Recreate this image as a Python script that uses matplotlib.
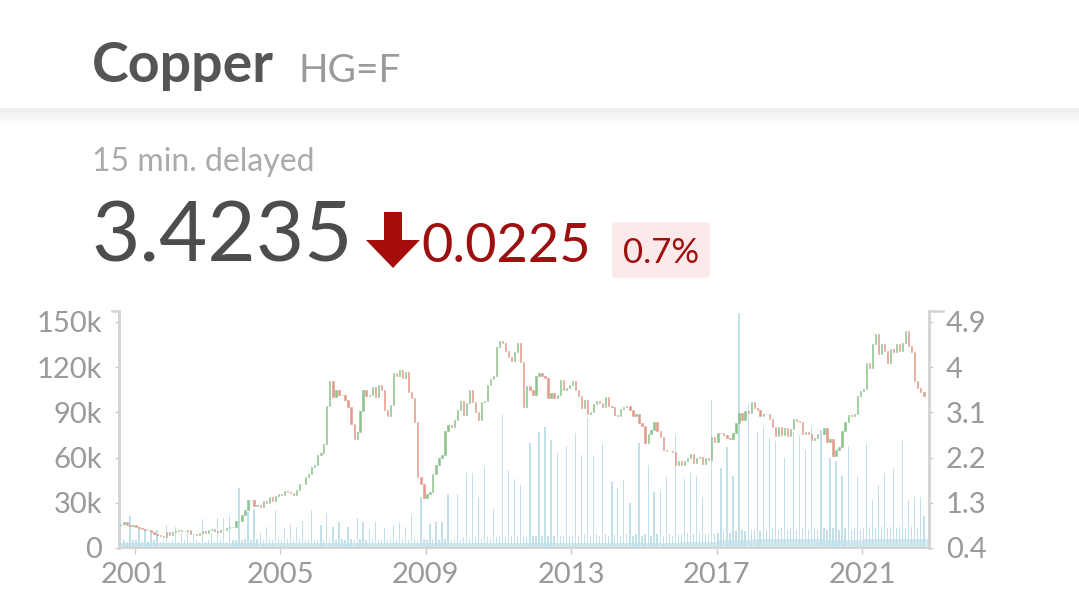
import matplotlib
matplotlib.use('Agg')
import matplotlib.pyplot as plt
import matplotlib.dates as mdates
import pandas as pd
import numpy as np
from matplotlib.patches import Polygon, FancyBboxPatch, Rectangle

plt.rcParams['font.family'] = ['Lato', 'DejaVu Sans']

# ---------------- data ----------------
title = "Copper"
symbol = "HG=F"
delay_note = "15 min. delayed"
last_price = "3.4235"
change = "0.0225"
change_pct = "0.7%"

start_month = "2000-08-01"
first_open = 0.85
# monthly closing prices, USD/lb (Aug 2000 .. Sep 2022)
closes = [
    0.88, 0.92, 0.86, 0.84, 0.85,                                          # 2000
    0.81, 0.80, 0.77, 0.76, 0.76, 0.71, 0.68, 0.66, 0.63, 0.62, 0.71, 0.66,  # 2001
    0.71, 0.73, 0.76, 0.73, 0.73, 0.76, 0.68, 0.68, 0.66, 0.70, 0.74, 0.70,  # 2002
    0.76, 0.77, 0.73, 0.72, 0.76, 0.75, 0.79, 0.81, 0.81, 0.93, 0.93, 1.05,  # 2003
    1.15, 1.35, 1.36, 1.23, 1.26, 1.21, 1.33, 1.30, 1.41, 1.34, 1.44, 1.48,  # 2004
    1.46, 1.53, 1.51, 1.50, 1.45, 1.56, 1.67, 1.67, 1.81, 1.88, 2.01, 2.05,  # 2005
    2.25, 2.30, 2.48, 3.22, 3.72, 3.40, 3.55, 3.45, 3.45, 3.35, 3.20, 2.86,  # 2006
    2.58, 2.70, 3.12, 3.55, 3.42, 3.45, 3.60, 3.40, 3.65, 3.55, 3.15, 3.03,  # 2007
    3.25, 3.88, 3.82, 3.94, 3.78, 3.90, 3.50, 3.38, 2.90, 1.82, 1.67, 1.40,  # 2008
    1.47, 1.52, 1.87, 2.05, 2.20, 2.25, 2.72, 2.85, 2.80, 2.95, 3.15, 3.33,  # 2009
    3.05, 3.28, 3.55, 3.30, 3.10, 2.95, 3.30, 3.33, 3.64, 3.76, 3.82, 4.40,  # 2010
    4.52, 4.48, 4.32, 4.20, 4.12, 4.30, 4.48, 4.10, 3.20, 3.62, 3.55, 3.44,  # 2011
    3.83, 3.88, 3.83, 3.78, 3.38, 3.48, 3.38, 3.45, 3.75, 3.55, 3.58, 3.65,  # 2012
    3.72, 3.55, 3.42, 3.18, 3.34, 3.06, 3.11, 3.26, 3.32, 3.28, 3.20, 3.40,  # 2013
    3.23, 3.20, 3.04, 3.03, 3.16, 3.20, 3.22, 3.14, 3.02, 3.06, 2.89, 2.83,  # 2014
    2.49, 2.67, 2.74, 2.90, 2.72, 2.61, 2.36, 2.34, 2.33, 2.32, 2.06, 2.13,  # 2015
    2.06, 2.14, 2.20, 2.27, 2.10, 2.20, 2.22, 2.07, 2.19, 2.16, 2.61, 2.51,  # 2016
    2.68, 2.69, 2.65, 2.60, 2.57, 2.69, 2.88, 3.08, 2.94, 3.12, 3.08, 3.30,  # 2017
    3.19, 3.14, 3.03, 3.06, 3.07, 2.96, 2.80, 2.64, 2.81, 2.65, 2.78, 2.63,  # 2018
    2.77, 2.96, 2.93, 2.90, 2.67, 2.71, 2.66, 2.56, 2.59, 2.66, 2.66, 2.79,  # 2019
    2.51, 2.57, 2.23, 2.35, 2.42, 2.72, 2.91, 3.05, 3.03, 3.07, 3.42, 3.52,  # 2020
    3.56, 4.09, 3.99, 4.47, 4.67, 4.27, 4.47, 4.33, 4.09, 4.37, 4.30, 4.46,  # 2021
    4.32, 4.49, 4.73, 4.43, 4.30, 3.72, 3.58, 3.51, 3.42,                    # 2022
]

# monthly peak volume, thousands of contracts
volume_k = [
    16, 5, 4, 21, 5,                                  # 2000
    5, 14, 4, 12, 4, 10, 5, 12, 4, 5, 15, 4,          # 2001
    5, 14, 4, 10, 5, 11, 4, 9, 5, 4, 19, 4,           # 2002
    5, 10, 4, 20, 5, 20, 4, 22, 5, 5, 40, 5,          # 2003
    6, 24, 5, 26, 6, 10, 5, 14, 6, 5, 25, 6,          # 2004
    5, 13, 6, 16, 5, 14, 6, 18, 5, 6, 25, 5,          # 2005
    6, 15, 5, 23, 6, 14, 5, 17, 6, 5, 14, 6,          # 2006
    5, 20, 6, 17, 5, 12, 6, 17, 5, 6, 13, 5,          # 2007
    6, 15, 5, 17, 6, 14, 5, 22, 6, 5, 34, 6,          # 2008
    5, 16, 6, 17, 5, 17, 6, 36, 5, 6, 36, 5,          # 2009
    7, 50, 6, 50, 7, 34, 6, 54, 7, 6, 26, 7,          # 2010
    8, 88, 7, 52, 8, 46, 7, 42, 8, 7, 70, 8,          # 2011
    8, 77, 8, 80, 8, 72, 8, 63, 8, 8, 68, 8,          # 2012
    8, 76, 8, 62, 9, 86, 8, 61, 9, 8, 70, 9,          # 2013
    8, 44, 9, 40, 8, 45, 9, 30, 8, 9, 70, 8,          # 2014
    9, 55, 8, 37, 9, 38, 8, 47, 9, 8, 75, 9,          # 2015
    9, 46, 10, 50, 9, 48, 10, 33, 9, 10, 98, 9,       # 2016
    10, 53, 11, 67, 10, 48, 11, 156, 12, 11, 96, 12,  # 2017
    12, 77, 11, 80, 12, 73, 13, 71, 12, 13, 60, 12,   # 2018
    13, 77, 12, 75, 13, 65, 12, 80, 13, 12, 78, 13,   # 2019
    12, 60, 13, 58, 12, 48, 13, 68, 12, 13, 48, 12,   # 2020
    13, 70, 14, 32, 13, 42, 14, 50, 13, 14, 53, 13,   # 2021
    14, 72, 13, 32, 14, 34, 13, 34, 21,               # 2022
]

# typical (baseline) daily volume per year, thousands
base_years = list(range(2000, 2023))
base_volume_k = [3, 3, 3, 3, 3.5, 3.5, 3, 3, 3, 3, 3, 3, 3, 3, 3, 3.5, 4, 5, 6, 6, 5, 6, 6]

vol_ticks = [0, 30000, 60000, 90000, 120000, 150000]
vol_labels = ["0", "30k", "60k", "90k", "120k", "150k"]
price_ticks = [0.4, 1.3, 2.2, 3.1, 4.0, 4.9]
price_labels = ["0.4", "1.3", "2.2", "3.1", "4", "4.9"]
year_ticks = [2001, 2005, 2009, 2013, 2017, 2021]

# ---------------- figure ----------------
W, H = 1079, 607
fig = plt.figure(figsize=(W / 100, H / 100), dpi=100, facecolor='white')

def fx(px):
    return px / W

def fy(py):
    return 1 - py / H

# header shadow band
for (y0, y1, c) in [(108, 112, '#efefef'), (112, 116, '#f3f3f3'),
                    (116, 120, '#f7f7f7'), (120, 125, '#fbfbfb')]:
    fig.add_artist(Rectangle((0, fy(y1)), 1, (y1 - y0) / H, transform=fig.transFigure,
                             facecolor=c, edgecolor='none', zorder=0))

fig.text(fx(92), fy(82), title, fontsize=40, fontweight='bold', color='#555555', va='baseline')
fig.text(fx(299), fy(82), symbol, fontsize=28, color='#9a9a9a', va='baseline')
fig.text(fx(92), fy(171), delay_note, fontsize=23, color='#aaaaaa', va='baseline')
fig.text(fx(91), fy(262), last_price, fontsize=60, color='#4d4d4d', va='baseline')

# down arrow
arrow_px = [(384, 212), (402, 212), (402, 240), (420, 240), (393, 268), (366, 240), (384, 240)]
fig.add_artist(Polygon([(fx(x), fy(y)) for x, y in arrow_px], closed=True,
                       transform=fig.transFigure, facecolor='#a50d0d', edgecolor='none'))
fig.text(fx(421), fy(262), change, fontsize=39, color='#9e0f0f', va='baseline')

fig.add_artist(FancyBboxPatch((fx(612), fy(278)), fx(710) - fx(612), (278 - 222) / H,
                              boxstyle='round,pad=0,rounding_size=0.006',
                              transform=fig.transFigure, facecolor='#fde9e9', edgecolor='none'))
fig.text(fx(661), fy(263), change_pct, fontsize=25, color='#9e0f0f', va='baseline', ha='center')

# ---------------- chart ----------------
ax = fig.add_axes([fx(119), fy(548), fx(929) - fx(119), (548 - 311) / H])
ax2 = ax.twinx()

months = pd.date_range(start_month, periods=len(closes), freq='MS') + pd.Timedelta(days=14)
x = mdates.date2num(months)
closes_a = np.array(closes)
opens_a = np.concatenate([[first_open], closes_a[:-1]])

# volume
edges = mdates.date2num(pd.to_datetime([f"{y}-01-01" for y in base_years + [base_years[-1] + 1]]))
ax.stairs(np.array(base_volume_k) * 1000, edges, fill=True, color='#d3e9f0', linewidth=0)
ax.bar(x, np.array(volume_k) * 1000, width=13, color='#c2e0e9', linewidth=0)

# candles
up = closes_a >= opens_a
colors = np.where(up, '#8cc28c', '#e39a8a')
ax2.bar(x, closes_a - opens_a, bottom=opens_a, width=13, color=colors,
        edgecolor=colors, linewidth=0.4)

vmax = 150000 * 237 / 226
pmax = 0.4 + 4.5 * 237 / 226
ax.set_ylim(0, vmax)
ax2.set_ylim(0.4, pmax)
ax.set_xlim(mdates.date2num(pd.Timestamp('2000-07-28')), mdates.date2num(pd.Timestamp('2022-11-05')))

ax.set_yticks(vol_ticks)
ax.set_yticklabels(vol_labels)
ax2.set_yticks(price_ticks)
ax2.set_yticklabels(price_labels)
ax.set_xticks(mdates.date2num(pd.to_datetime([f"{y}-01-01" for y in year_ticks])))
ax.set_xticklabels([str(y) for y in year_ticks])

for a in (ax, ax2):
    a.spines['top'].set_visible(False)
    for s in ('left', 'right', 'bottom'):
        a.spines[s].set_color('#d4d4d4')
    a.spines['left'].set_linewidth(1.8)
    a.spines['right'].set_linewidth(1.8)
    a.spines['bottom'].set_linewidth(1.2)
    a.set_facecolor('none')

ax.tick_params(axis='y', length=3, width=1, color='#cccccc', labelcolor='#9a9a9a',
               labelsize=21, pad=9)
ax2.tick_params(axis='y', length=3, width=1, color='#cccccc', labelcolor='#9a9a9a',
                labelsize=21, pad=9)
ax.tick_params(axis='x', length=4, width=1, color='#cccccc', labelcolor='#9a9a9a',
               labelsize=21, pad=6)

# outer caps at the top of the y axes
ax.plot([-0.009, 0], [1, 1], transform=ax.transAxes, color='#d4d4d4', lw=1.8, clip_on=False)
ax2.plot([1, 1.017], [1, 1], transform=ax2.transAxes, color='#d4d4d4', lw=1.8, clip_on=False)

fig.savefig('out.png', dpi=100, facecolor='white')
